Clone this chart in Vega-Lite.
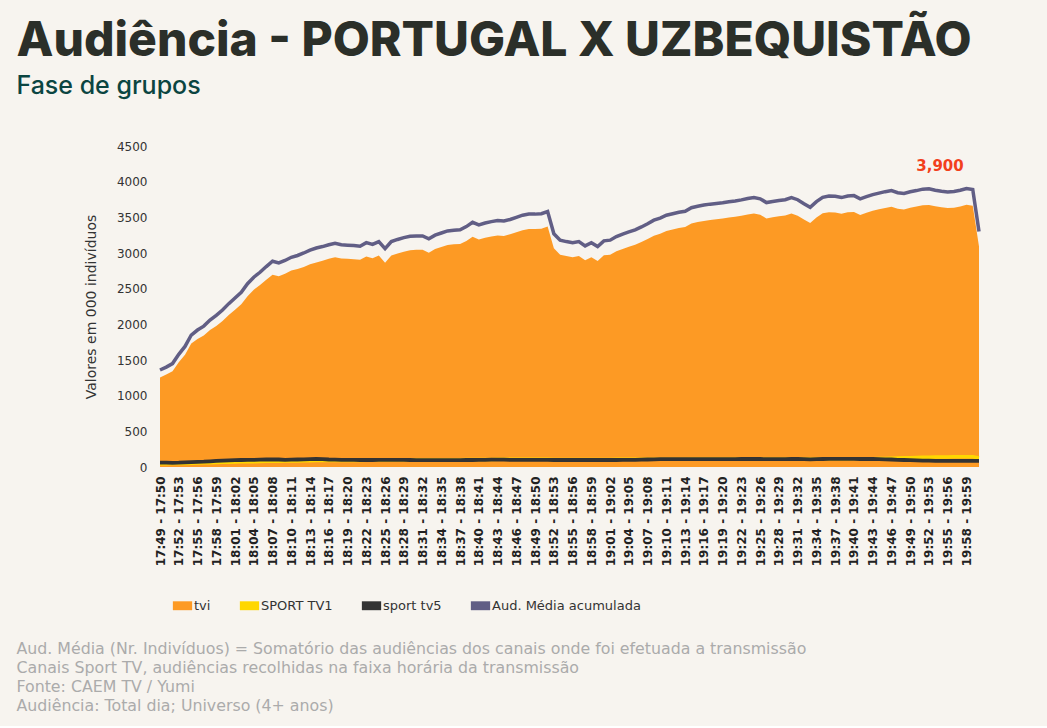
{
  "$schema": "https://vega.github.io/schema/vega-lite/v6.json",
  "background": "#f7f4ef",
  "padding": {"left": 16, "top": 18, "right": 62, "bottom": 12},
  "title": {
    "text": "Audiência - PORTUGAL X UZBEQUISTÃO",
    "subtitle": "Fase de grupos",
    "anchor": "start",
    "frame": "bounds",
    "font": "Inter",
    "fontSize": 48,
    "fontWeight": 800,
    "color": "#2b2f29",
    "subtitleFont": "Inter",
    "subtitleFontSize": 25,
    "subtitleFontWeight": 500,
    "subtitleColor": "#0b4541",
    "subtitlePadding": 8,
    "offset": 41
  },
  "config": {"view": {"stroke": null}},
  "resolve": {"scale": {"color": "independent"}, "legend": {"color": "independent"}},
  "vconcat": [
    {
      "title": {
        "text": [
          "Aud. Média (Nr. Indivíduos) = Somatório das audiências dos canais onde foi efetuada a transmissão",
          "Canais Sport TV, audiências recolhidas na faixa horária da transmissão",
          "Fonte: CAEM TV / Yumi",
          "Audiência: Total dia; Universo (4+ anos)"
        ],
        "orient": "bottom",
        "anchor": "start",
        "frame": "bounds",
        "dx": -68,
        "font": "DejaVu Sans",
        "fontSize": 15.8,
        "fontWeight": "normal",
        "color": "#ababab",
        "lineHeight": 19,
        "offset": 14
      },
      "resolve": {"scale": {"color": "independent"}, "legend": {"color": "independent"}},
      "vconcat": [
        {
          "width": 819,
          "height": 321,
          "data": {
            "values": [
              {"t": "17:49 - 17:50", "tvi": 1255, "s1": 45, "s5": 60, "total": 1360},
              {"t": "17:50 - 17:51", "tvi": 1295, "s1": 45, "s5": 60, "total": 1400},
              {"t": "17:51 - 17:52", "tvi": 1344, "s1": 48, "s5": 58, "total": 1450},
              {"t": "17:52 - 17:53", "tvi": 1470, "s1": 50, "s5": 60, "total": 1580},
              {"t": "17:53 - 17:54", "tvi": 1575, "s1": 50, "s5": 65, "total": 1690},
              {"t": "17:54 - 17:55", "tvi": 1730, "s1": 52, "s5": 68, "total": 1850},
              {"t": "17:55 - 17:56", "tvi": 1793, "s1": 55, "s5": 72, "total": 1920},
              {"t": "17:56 - 17:57", "tvi": 1842, "s1": 58, "s5": 75, "total": 1975},
              {"t": "17:57 - 17:58", "tvi": 1920, "s1": 60, "s5": 80, "total": 2060},
              {"t": "17:58 - 17:59", "tvi": 1978, "s1": 62, "s5": 85, "total": 2125},
              {"t": "17:59 - 18:00", "tvi": 2045, "s1": 65, "s5": 90, "total": 2200},
              {"t": "18:00 - 18:01", "tvi": 2130, "s1": 68, "s5": 92, "total": 2290},
              {"t": "18:01 - 18:02", "tvi": 2205, "s1": 70, "s5": 95, "total": 2370},
              {"t": "18:02 - 18:03", "tvi": 2280, "s1": 72, "s5": 98, "total": 2450},
              {"t": "18:03 - 18:04", "tvi": 2395, "s1": 75, "s5": 100, "total": 2570},
              {"t": "18:04 - 18:05", "tvi": 2485, "s1": 75, "s5": 100, "total": 2660},
              {"t": "18:05 - 18:06", "tvi": 2550, "s1": 78, "s5": 102, "total": 2730},
              {"t": "18:06 - 18:07", "tvi": 2625, "s1": 80, "s5": 105, "total": 2810},
              {"t": "18:07 - 18:08", "tvi": 2695, "s1": 82, "s5": 108, "total": 2885},
              {"t": "18:08 - 18:09", "tvi": 2673, "s1": 82, "s5": 105, "total": 2860},
              {"t": "18:09 - 18:10", "tvi": 2710, "s1": 85, "s5": 100, "total": 2895},
              {"t": "18:10 - 18:11", "tvi": 2753, "s1": 85, "s5": 102, "total": 2940},
              {"t": "18:11 - 18:12", "tvi": 2775, "s1": 85, "s5": 105, "total": 2965},
              {"t": "18:12 - 18:13", "tvi": 2804, "s1": 88, "s5": 108, "total": 3000},
              {"t": "18:13 - 18:14", "tvi": 2842, "s1": 88, "s5": 110, "total": 3040},
              {"t": "18:14 - 18:15", "tvi": 2868, "s1": 90, "s5": 112, "total": 3070},
              {"t": "18:15 - 18:16", "tvi": 2890, "s1": 90, "s5": 110, "total": 3090},
              {"t": "18:16 - 18:17", "tvi": 2920, "s1": 90, "s5": 105, "total": 3115},
              {"t": "18:17 - 18:18", "tvi": 2941, "s1": 92, "s5": 102, "total": 3135},
              {"t": "18:18 - 18:19", "tvi": 2923, "s1": 92, "s5": 100, "total": 3115},
              {"t": "18:19 - 18:20", "tvi": 2918, "s1": 92, "s5": 100, "total": 3110},
              {"t": "18:20 - 18:21", "tvi": 2913, "s1": 92, "s5": 100, "total": 3105},
              {"t": "18:21 - 18:22", "tvi": 2905, "s1": 92, "s5": 98, "total": 3095},
              {"t": "18:22 - 18:23", "tvi": 2952, "s1": 95, "s5": 98, "total": 3145},
              {"t": "18:23 - 18:24", "tvi": 2927, "s1": 95, "s5": 98, "total": 3120},
              {"t": "18:24 - 18:25", "tvi": 2965, "s1": 95, "s5": 100, "total": 3160},
              {"t": "18:25 - 18:26", "tvi": 2865, "s1": 95, "s5": 100, "total": 3060},
              {"t": "18:26 - 18:27", "tvi": 2965, "s1": 95, "s5": 100, "total": 3160},
              {"t": "18:27 - 18:28", "tvi": 2992, "s1": 98, "s5": 100, "total": 3190},
              {"t": "18:28 - 18:29", "tvi": 3017, "s1": 98, "s5": 100, "total": 3215},
              {"t": "18:29 - 18:30", "tvi": 3039, "s1": 98, "s5": 98, "total": 3235},
              {"t": "18:30 - 18:31", "tvi": 3044, "s1": 100, "s5": 96, "total": 3240},
              {"t": "18:31 - 18:32", "tvi": 3045, "s1": 100, "s5": 95, "total": 3240},
              {"t": "18:32 - 18:33", "tvi": 3005, "s1": 100, "s5": 95, "total": 3200},
              {"t": "18:33 - 18:34", "tvi": 3055, "s1": 100, "s5": 95, "total": 3250},
              {"t": "18:34 - 18:35", "tvi": 3083, "s1": 102, "s5": 95, "total": 3280},
              {"t": "18:35 - 18:36", "tvi": 3113, "s1": 102, "s5": 95, "total": 3310},
              {"t": "18:36 - 18:37", "tvi": 3122, "s1": 102, "s5": 96, "total": 3320},
              {"t": "18:37 - 18:38", "tvi": 3127, "s1": 102, "s5": 96, "total": 3325},
              {"t": "18:38 - 18:39", "tvi": 3167, "s1": 105, "s5": 98, "total": 3370},
              {"t": "18:39 - 18:40", "tvi": 3227, "s1": 105, "s5": 98, "total": 3430},
              {"t": "18:40 - 18:41", "tvi": 3190, "s1": 105, "s5": 100, "total": 3395},
              {"t": "18:41 - 18:42", "tvi": 3215, "s1": 105, "s5": 100, "total": 3420},
              {"t": "18:42 - 18:43", "tvi": 3233, "s1": 105, "s5": 102, "total": 3440},
              {"t": "18:43 - 18:44", "tvi": 3245, "s1": 108, "s5": 102, "total": 3455},
              {"t": "18:44 - 18:45", "tvi": 3240, "s1": 108, "s5": 102, "total": 3450},
              {"t": "18:45 - 18:46", "tvi": 3262, "s1": 108, "s5": 100, "total": 3470},
              {"t": "18:46 - 18:47", "tvi": 3292, "s1": 108, "s5": 100, "total": 3500},
              {"t": "18:47 - 18:48", "tvi": 3320, "s1": 110, "s5": 100, "total": 3530},
              {"t": "18:48 - 18:49", "tvi": 3335, "s1": 110, "s5": 100, "total": 3545},
              {"t": "18:49 - 18:50", "tvi": 3335, "s1": 110, "s5": 100, "total": 3545},
              {"t": "18:50 - 18:51", "tvi": 3340, "s1": 110, "s5": 100, "total": 3550},
              {"t": "18:51 - 18:52", "tvi": 3370, "s1": 110, "s5": 100, "total": 3580},
              {"t": "18:52 - 18:53", "tvi": 3067, "s1": 105, "s5": 98, "total": 3270},
              {"t": "18:53 - 18:54", "tvi": 2977, "s1": 105, "s5": 98, "total": 3180},
              {"t": "18:54 - 18:55", "tvi": 2957, "s1": 105, "s5": 98, "total": 3160},
              {"t": "18:55 - 18:56", "tvi": 2942, "s1": 105, "s5": 98, "total": 3145},
              {"t": "18:56 - 18:57", "tvi": 2957, "s1": 105, "s5": 98, "total": 3160},
              {"t": "18:57 - 18:58", "tvi": 2897, "s1": 105, "s5": 98, "total": 3100},
              {"t": "18:58 - 18:59", "tvi": 2942, "s1": 105, "s5": 98, "total": 3145},
              {"t": "18:59 - 19:00", "tvi": 2887, "s1": 105, "s5": 98, "total": 3090},
              {"t": "19:00 - 19:01", "tvi": 2967, "s1": 105, "s5": 98, "total": 3170},
              {"t": "19:01 - 19:02", "tvi": 2977, "s1": 105, "s5": 98, "total": 3180},
              {"t": "19:02 - 19:03", "tvi": 3024, "s1": 108, "s5": 98, "total": 3230},
              {"t": "19:03 - 19:04", "tvi": 3057, "s1": 108, "s5": 100, "total": 3265},
              {"t": "19:04 - 19:05", "tvi": 3087, "s1": 108, "s5": 100, "total": 3295},
              {"t": "19:05 - 19:06", "tvi": 3117, "s1": 108, "s5": 100, "total": 3325},
              {"t": "19:06 - 19:07", "tvi": 3153, "s1": 110, "s5": 102, "total": 3365},
              {"t": "19:07 - 19:08", "tvi": 3195, "s1": 110, "s5": 105, "total": 3410},
              {"t": "19:08 - 19:09", "tvi": 3242, "s1": 110, "s5": 108, "total": 3460},
              {"t": "19:09 - 19:10", "tvi": 3270, "s1": 110, "s5": 110, "total": 3490},
              {"t": "19:10 - 19:11", "tvi": 3310, "s1": 110, "s5": 110, "total": 3530},
              {"t": "19:11 - 19:12", "tvi": 3330, "s1": 110, "s5": 110, "total": 3550},
              {"t": "19:12 - 19:13", "tvi": 3350, "s1": 110, "s5": 110, "total": 3570},
              {"t": "19:13 - 19:14", "tvi": 3365, "s1": 110, "s5": 110, "total": 3585},
              {"t": "19:14 - 19:15", "tvi": 3413, "s1": 112, "s5": 110, "total": 3635},
              {"t": "19:15 - 19:16", "tvi": 3433, "s1": 112, "s5": 110, "total": 3655},
              {"t": "19:16 - 19:17", "tvi": 3450, "s1": 112, "s5": 110, "total": 3672},
              {"t": "19:17 - 19:18", "tvi": 3463, "s1": 112, "s5": 110, "total": 3685},
              {"t": "19:18 - 19:19", "tvi": 3473, "s1": 112, "s5": 110, "total": 3695},
              {"t": "19:19 - 19:20", "tvi": 3483, "s1": 112, "s5": 110, "total": 3705},
              {"t": "19:20 - 19:21", "tvi": 3496, "s1": 112, "s5": 110, "total": 3718},
              {"t": "19:21 - 19:22", "tvi": 3508, "s1": 112, "s5": 110, "total": 3730},
              {"t": "19:22 - 19:23", "tvi": 3521, "s1": 112, "s5": 112, "total": 3745},
              {"t": "19:23 - 19:24", "tvi": 3541, "s1": 112, "s5": 112, "total": 3765},
              {"t": "19:24 - 19:25", "tvi": 3554, "s1": 112, "s5": 112, "total": 3778},
              {"t": "19:25 - 19:26", "tvi": 3536, "s1": 112, "s5": 112, "total": 3760},
              {"t": "19:26 - 19:27", "tvi": 3485, "s1": 112, "s5": 110, "total": 3707},
              {"t": "19:27 - 19:28", "tvi": 3500, "s1": 112, "s5": 110, "total": 3722},
              {"t": "19:28 - 19:29", "tvi": 3515, "s1": 112, "s5": 110, "total": 3737},
              {"t": "19:29 - 19:30", "tvi": 3525, "s1": 112, "s5": 110, "total": 3747},
              {"t": "19:30 - 19:31", "tvi": 3553, "s1": 112, "s5": 112, "total": 3777},
              {"t": "19:31 - 19:32", "tvi": 3523, "s1": 112, "s5": 112, "total": 3747},
              {"t": "19:32 - 19:33", "tvi": 3468, "s1": 112, "s5": 110, "total": 3690},
              {"t": "19:33 - 19:34", "tvi": 3420, "s1": 112, "s5": 108, "total": 3640},
              {"t": "19:34 - 19:35", "tvi": 3498, "s1": 112, "s5": 110, "total": 3720},
              {"t": "19:35 - 19:36", "tvi": 3556, "s1": 112, "s5": 112, "total": 3780},
              {"t": "19:36 - 19:37", "tvi": 3573, "s1": 112, "s5": 115, "total": 3800},
              {"t": "19:37 - 19:38", "tvi": 3568, "s1": 112, "s5": 115, "total": 3795},
              {"t": "19:38 - 19:39", "tvi": 3550, "s1": 112, "s5": 115, "total": 3777},
              {"t": "19:39 - 19:40", "tvi": 3573, "s1": 112, "s5": 115, "total": 3800},
              {"t": "19:40 - 19:41", "tvi": 3575, "s1": 115, "s5": 115, "total": 3805},
              {"t": "19:41 - 19:42", "tvi": 3533, "s1": 115, "s5": 112, "total": 3760},
              {"t": "19:42 - 19:43", "tvi": 3563, "s1": 115, "s5": 112, "total": 3790},
              {"t": "19:43 - 19:44", "tvi": 3591, "s1": 115, "s5": 112, "total": 3818},
              {"t": "19:44 - 19:45", "tvi": 3612, "s1": 118, "s5": 110, "total": 3840},
              {"t": "19:45 - 19:46", "tvi": 3632, "s1": 120, "s5": 108, "total": 3860},
              {"t": "19:46 - 19:47", "tvi": 3648, "s1": 122, "s5": 105, "total": 3875},
              {"t": "19:47 - 19:48", "tvi": 3620, "s1": 125, "s5": 100, "total": 3845},
              {"t": "19:48 - 19:49", "tvi": 3609, "s1": 128, "s5": 98, "total": 3835},
              {"t": "19:49 - 19:50", "tvi": 3633, "s1": 130, "s5": 95, "total": 3858},
              {"t": "19:50 - 19:51", "tvi": 3651, "s1": 132, "s5": 92, "total": 3875},
              {"t": "19:51 - 19:52", "tvi": 3670, "s1": 135, "s5": 90, "total": 3895},
              {"t": "19:52 - 19:53", "tvi": 3674, "s1": 138, "s5": 88, "total": 3900},
              {"t": "19:53 - 19:54", "tvi": 3654, "s1": 140, "s5": 86, "total": 3880},
              {"t": "19:54 - 19:55", "tvi": 3640, "s1": 140, "s5": 85, "total": 3865},
              {"t": "19:55 - 19:56", "tvi": 3630, "s1": 140, "s5": 85, "total": 3855},
              {"t": "19:56 - 19:57", "tvi": 3635, "s1": 142, "s5": 85, "total": 3862},
              {"t": "19:57 - 19:58", "tvi": 3653, "s1": 142, "s5": 85, "total": 3880},
              {"t": "19:58 - 19:59", "tvi": 3678, "s1": 142, "s5": 85, "total": 3905},
              {"t": "19:59 - 20:00", "tvi": 3663, "s1": 142, "s5": 85, "total": 3890},
              {"t": "20:00 - 20:01", "tvi": 3090, "s1": 125, "s5": 85, "total": 3300}
            ]
          },
          "transform": [
            {"fold": ["tvi", "s1", "s5", "total"], "as": ["serie", "v"]}
          ],
          "encoding": {
            "x": {
              "field": "t",
              "type": "ordinal",
              "sort": null,
              "scale": {"type": "point", "padding": 0},
              "axis": {
                "title": null,
                "values": [
                  "17:49 - 17:50", "17:52 - 17:53", "17:55 - 17:56", "17:58 - 17:59",
                  "18:01 - 18:02", "18:04 - 18:05", "18:07 - 18:08", "18:10 - 18:11",
                  "18:13 - 18:14", "18:16 - 18:17", "18:19 - 18:20", "18:22 - 18:23",
                  "18:25 - 18:26", "18:28 - 18:29", "18:31 - 18:32", "18:34 - 18:35",
                  "18:37 - 18:38", "18:40 - 18:41", "18:43 - 18:44", "18:46 - 18:47",
                  "18:49 - 18:50", "18:52 - 18:53", "18:55 - 18:56", "18:58 - 18:59",
                  "19:01 - 19:02", "19:04 - 19:05", "19:07 - 19:08", "19:10 - 19:11",
                  "19:13 - 19:14", "19:16 - 19:17", "19:19 - 19:20", "19:22 - 19:23",
                  "19:25 - 19:26", "19:28 - 19:29", "19:31 - 19:32", "19:34 - 19:35",
                  "19:37 - 19:38", "19:40 - 19:41", "19:43 - 19:44", "19:46 - 19:47",
                  "19:49 - 19:50", "19:52 - 19:53", "19:55 - 19:56", "19:58 - 19:59"
                ],
                "labelAngle": -90,
                "labelFont": "DejaVu Sans",
                "labelFontSize": 12,
                "labelFontWeight": "bold",
                "labelColor": "#222222",
                "labelPadding": 9,
                "labelOverlap": false,
                "domain": false,
                "ticks": false
              }
            },
            "y": {
              "field": "v",
              "type": "quantitative",
              "title": "Valores em 000 indivíduos",
              "scale": {"domain": [0, 4500], "nice": false},
              "axis": {
                "values": [0, 500, 1000, 1500, 2000, 2500, 3000, 3500, 4000, 4500],
                "format": "d",
                "grid": false,
                "domain": false,
                "ticks": false,
                "labelFont": "DejaVu Sans",
                "labelFontSize": 12,
                "labelColor": "#333333",
                "labelPadding": 13,
                "titleFont": "DejaVu Sans",
                "titleFontSize": 14,
                "titleFontWeight": "normal",
                "titleColor": "#333333",
                "titlePadding": 18
              }
            },
            "color": {
              "field": "serie",
              "type": "nominal",
              "scale": {
                "domain": ["tvi", "s1", "s5", "total"],
                "range": ["#fd9a24", "#ffd700", "#333333", "#615e85"]
              },
              "legend": {
                "orient": "bottom",
                "direction": "horizontal",
                "title": null,
                "labelExpr": "{'tvi': 'tvi', 's1': 'SPORT TV1', 's5': 'sport tv5', 'total': 'Aud. Média acumulada'}[datum.label]",
                "symbolType": "M-1.3,-0.6H1.3V0.6H-1.3Z",
                "symbolSize": 220,
                "symbolStrokeWidth": 0,
                "labelFont": "DejaVu Sans",
                "labelFontSize": 13,
                "labelColor": "#333333",
                "columnPadding": 28,
                "padding": 15,
                "offset": 17
              }
            }
          },
          "layer": [
            {
              "transform": [{"filter": "datum.serie == 'tvi'"}],
              "mark": {"type": "area", "opacity": 1}
            },
            {
              "transform": [{"filter": "datum.serie == 's1'"}],
              "mark": {"type": "line", "strokeWidth": 3.5}
            },
            {
              "transform": [{"filter": "datum.serie == 's5'"}],
              "mark": {"type": "line", "strokeWidth": 3.8}
            },
            {
              "transform": [{"filter": "datum.serie == 'total'"}],
              "mark": {"type": "line", "strokeWidth": 3.5}
            },
            {
              "transform": [{"filter": "datum.serie == 'total' && datum.t == '19:52 - 19:53'"}],
              "mark": {
                "type": "text",
                "dx": 11,
                "dy": -23,
                "font": "DejaVu Sans",
                "fontSize": 15,
                "fontWeight": "bold"
              },
              "encoding": {
                "text": {"field": "v", "type": "quantitative", "format": ","},
                "color": {"value": "#f2401c"}
              }
            }
          ]
        }
      ]
    }
  ]
}
